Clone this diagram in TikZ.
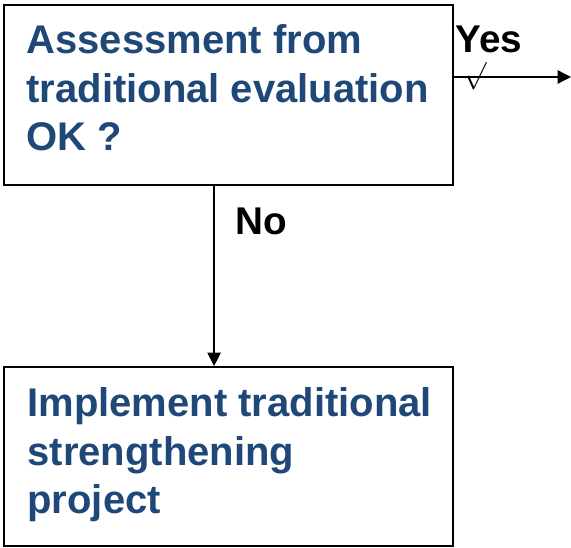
\documentclass[tikz,border=0pt]{standalone}
\usepackage{fontspec}
\setmainfont{Liberation Sans}
\usetikzlibrary{arrows.meta}

\definecolor{boxblue}{RGB}{31,71,120}

\tikzset{every picture/.style={line width=0.75pt}}
\tikzset{
  box/.style={draw, line width=1.5, inner sep=0pt, minimum width=336.4pt},
  boxtext/.style={anchor=north west, inner sep=0pt, align=left, text=boxblue,
    font=\bfseries\fontsize{30pt}{36.4pt}\selectfont},
  branch/.style={inner sep=0.75pt, font=\bfseries\fontsize{29pt}{34pt}\selectfont},
  flow/.style={line width=1, -{Triangle[length=10pt,width=10pt]}}
}

\begin{document}
\begin{tikzpicture}[x=0.75pt,y=0.75pt,yscale=-1,xscale=1]
\useasboundingbox (0,0) rectangle (571,548);

%Shape: Rectangle [decision]
\node [box, minimum height=135pt] (q) at (228.75,95) {};
% Text Node
\node [boxtext] (qtext) at (26,24) {Assessment from\\traditional evaluation\\OK ?};

%Shape: Rectangle [action]
\node [box, minimum height=134.25pt] (act) at (228.75,456.5) {};
% Text Node
\node [boxtext] (acttext) at (27,387) {Implement traditional\\strengthening\\project};

%Straight Lines [yes branch]
\coordinate (yesend) at (571,77);
\draw [flow] (q.east |- yesend) -- (yesend);
%Straight Lines [no branch]
\draw [flow] ([xshift=-11pt]q.south) -- ([xshift=-11pt]q.south |- act.north);

% Text Node
\node [branch] (yes) at (489,39) {Yes};
% Text Node
\node [branch] (no) at (261,221) {No};
% Text Node
\node [inner sep=0pt, font=\fontsize{22pt}{22pt}\selectfont] (tick) at (475,76) {$\surd$};

\end{tikzpicture}
\end{document}
